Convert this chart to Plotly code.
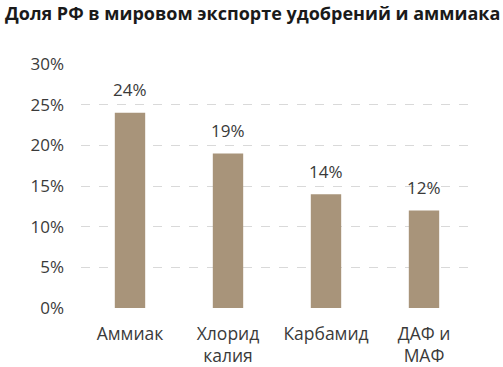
import plotly.graph_objects as go

categories = ["Аммиак", "Хлорид<br>калия", "Карбамид", "ДАФ и<br>МАФ"]
values = [24, 19, 14, 12]
tick_vals = [0, 5, 10, 15, 20, 25, 30]
tick_text = ["0%", "5%", "10%", "15%", "20%", "25%", "30%"]

FONT = "Open Sans"
TXT = "#3a3a3a"

fig = go.Figure(go.Bar(
    x=categories, y=values,
    marker=dict(color="#A8947A", line=dict(width=0)),
    hoverinfo="skip",
))

for c, v in zip(categories, values):
    fig.add_annotation(x=c, y=v, text=f"{v}%", showarrow=False,
                       yanchor="middle", yshift=23,
                       font=dict(family=FONT, size=17, color=TXT))

fig.update_layout(
    width=503, height=367,
    margin=dict(l=81, r=30, t=64, b=59),
    paper_bgcolor="white", plot_bgcolor="white",
    bargap=0.69,
    showlegend=False,
    title=dict(text="<b>Доля РФ в мировом экспорте удобрений и аммиака</b>",
               x=0.01, xanchor="left", y=0.962, yanchor="middle",
               font=dict(family=FONT, size=18, color="#1a1a1a")),
    font=dict(family=FONT, size=17, color=TXT),
)
fig.update_yaxes(range=[0, 30], tickvals=tick_vals, ticktext=tick_text,
                 showgrid=True, gridcolor="#D9D9D9", griddash="dash", gridwidth=1,
                 zeroline=False, showline=False, ticks="", ticklabelstandoff=16,
                 automargin=False,
                 tickfont=dict(family=FONT, size=17, color=TXT))
fig.update_xaxes(showline=False, ticks="", showgrid=False, automargin=False,
                 ticklabelstandoff=13,
                 tickfont=dict(family=FONT, size=17.5, color=TXT))

fig.write_html("out.html", config={"displayModeBar": False},
               post_script="document.body.style.margin='0';")
